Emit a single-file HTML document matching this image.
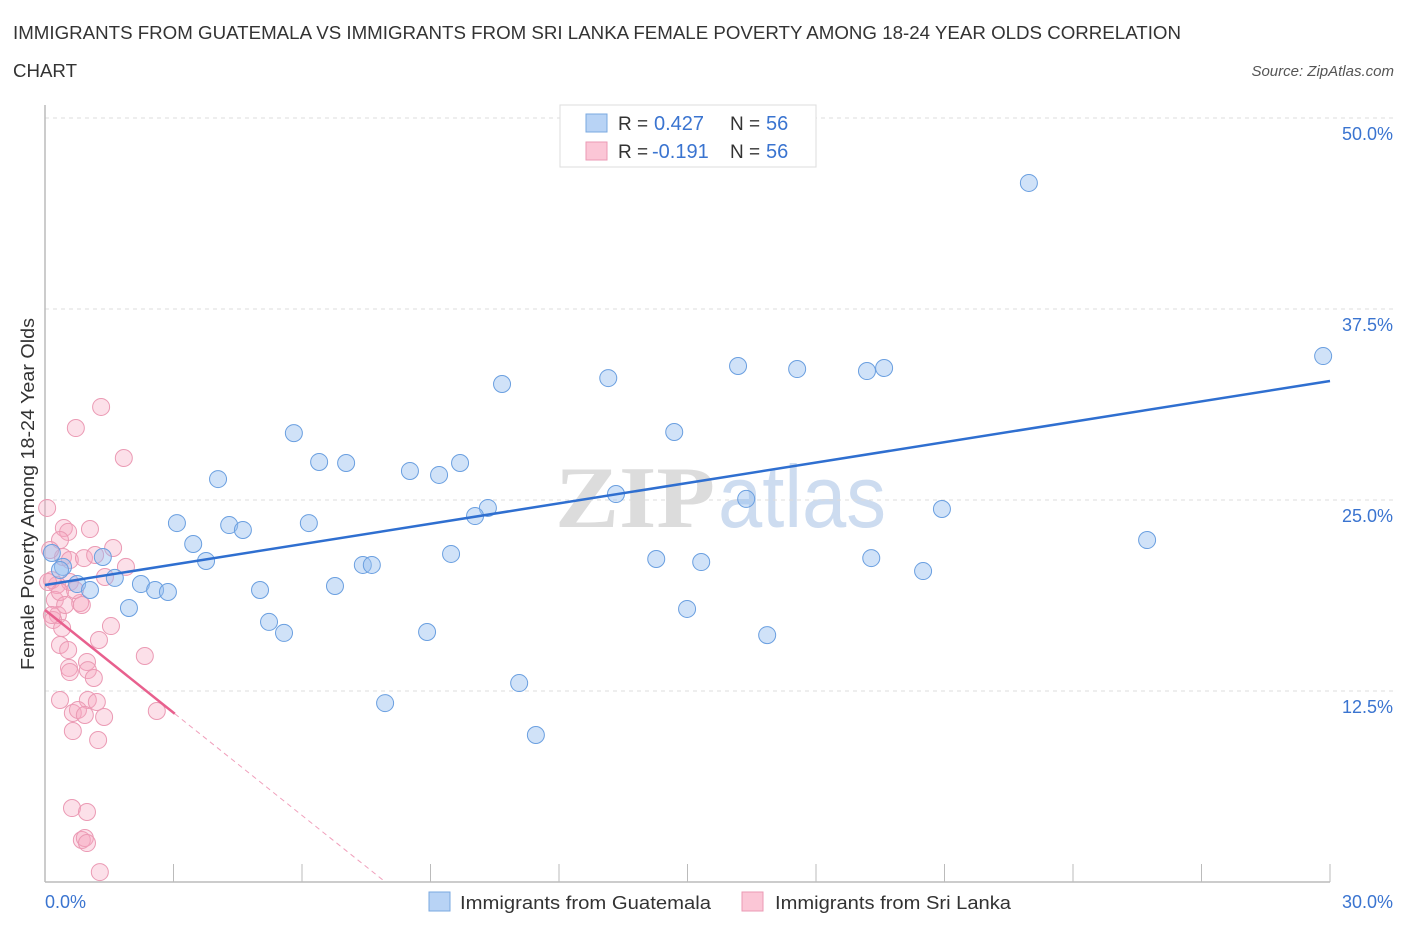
<!DOCTYPE html>
<html><head><meta charset="utf-8"><style>
body{margin:0;background:#fff;font-family:"Liberation Sans",sans-serif}
svg{display:block}
</style></head><body>
<svg id="chart" width="1406" height="930" xmlns="http://www.w3.org/2000/svg">
<text x="13" y="39" font-size="18" fill="#333" textLength="1168" lengthAdjust="spacingAndGlyphs">IMMIGRANTS FROM GUATEMALA VS IMMIGRANTS FROM SRI LANKA FEMALE POVERTY AMONG 18-24 YEAR OLDS CORRELATION</text>
<text x="13" y="77" font-size="18" fill="#333" textLength="64" lengthAdjust="spacingAndGlyphs">CHART</text>
<text x="1394" y="76" font-size="15" fill="#555" font-style="italic" text-anchor="end">Source: ZipAtlas.com</text>
<text transform="translate(34,494) rotate(-90)" font-size="18" fill="#333" text-anchor="middle" textLength="352" lengthAdjust="spacingAndGlyphs">Female Poverty Among 18-24 Year Olds</text>
<g font-size="88"><text x="555" y="527" fill="#dcdcdc" font-family="Liberation Serif" font-weight="bold" textLength="160" lengthAdjust="spacingAndGlyphs">ZIP</text><text x="718" y="527" fill="#cddcf0" textLength="168" lengthAdjust="spacingAndGlyphs">atlas</text></g>
<g id="grid"></g><g id="axes"></g><g id="marks"></g>
<g>
<rect x="560" y="105" width="256" height="62" fill="#fff" stroke="#ddd"/>
<rect x="586" y="114" width="21" height="18" fill="#b8d3f5" stroke="#7aa8e0"/>
<rect x="586" y="142" width="21" height="18" fill="#fbc6d6" stroke="#eb9ab4"/>
<text x="618" y="130" font-size="19" fill="#333">R =</text><text x="654" y="130" font-size="20" fill="#3a74d0">0.427</text>
<text x="730" y="130" font-size="19" fill="#333">N =</text><text x="766" y="130" font-size="20" fill="#3a74d0">56</text>
<text x="618" y="158" font-size="19" fill="#333">R =</text><text x="652" y="158" font-size="20" fill="#3a74d0">-0.191</text>
<text x="730" y="158" font-size="19" fill="#333">N =</text><text x="766" y="158" font-size="20" fill="#3a74d0">56</text>
</g>
<g>
<rect x="429" y="892" width="21" height="19" fill="#b8d3f5" stroke="#7aa8e0"/>
<text x="460" y="909" font-size="18" fill="#333" textLength="251" lengthAdjust="spacingAndGlyphs">Immigrants from Guatemala</text>
<rect x="742" y="892" width="21" height="19" fill="#fbc6d6" stroke="#eb9ab4"/>
<text x="775" y="909" font-size="18" fill="#333" textLength="236" lengthAdjust="spacingAndGlyphs">Immigrants from Sri Lanka</text>
</g>
</svg>
<script>
const yTicks=[12.5,25,37.5,50];
const yTickLabels=["12.5%","25.0%","37.5%","50.0%"];
const xTicks=[0,3,6,9,12,15,18,21,24,27,30];
const guatX=[22.97,29.84,16.18,17.56,19.19,19.59,13.15,10.67,14.69,5.81,6.40,7.03,9.69,8.52,9.20,4.04,13.33,16.37,10.34,10.04,20.94,3.08,4.30,4.62,6.16,3.46,25.73,9.48,14.27,19.29,3.76,7.42,7.63,15.32,20.50,1.35,0.42,1.63,2.24,0.75,1.05,2.57,2.87,6.77,5.02,1.96,14.99,5.23,5.58,8.92,16.86,11.07,7.94,11.46,0.16,0.35];
const guatY=[45.75,34.42,33.77,33.57,33.44,33.64,32.98,32.59,29.45,29.38,27.49,27.42,27.42,26.90,26.64,26.37,25.39,25.07,24.48,23.95,24.41,23.49,23.36,23.04,23.49,22.12,22.38,21.47,21.14,21.20,21.01,20.75,20.75,20.94,20.35,21.27,20.62,19.90,19.50,19.50,19.11,19.11,18.98,19.37,19.11,17.93,17.87,17.02,16.30,16.36,16.16,13.02,11.71,9.62,21.53,20.42];
const sriX=[1.31,0.72,1.84,0.05,0.44,0.54,1.05,0.42,0.58,1.59,0.91,0.35,1.40,1.89,0.58,0.28,0.16,0.23,0.35,0.82,0.86,0.30,0.19,0.40,0.35,1.54,1.26,0.98,1.00,0.56,2.33,0.54,0.58,1.14,1.00,0.65,0.77,1.21,0.93,1.38,1.24,2.61,0.65,0.63,0.98,0.86,0.93,0.98,1.28,0.12,0.07,1.17,0.35,0.47,0.70,0.16];
const sriY=[31.09,29.71,27.75,24.48,23.17,22.91,23.10,21.27,21.07,21.86,21.20,22.38,19.96,20.62,19.63,19.44,19.76,18.46,18.98,18.26,18.13,17.47,17.15,16.62,15.51,16.75,15.84,14.40,13.87,14.01,14.79,15.18,13.74,13.35,11.91,11.06,11.26,11.78,10.93,10.80,9.29,11.19,9.88,4.84,4.58,2.75,2.88,2.55,0.65,21.73,19.63,21.40,11.91,18.13,19.11,17.47];
const guatTrend=[19.44,32.79];
const sriTrend=[17.80,-2.24]; // intercept, slope
const sriSolidEnd=3.03, sriDashEnd=7.94;
const X0=45,X1=1330,Y0=882,Y1=118;
const sx=v=>X0+(X1-X0)*v/30, sy=v=>Y0-(Y0-Y1)*v/50;
const NS="http://www.w3.org/2000/svg";
function mk(t,a,p){const e=document.createElementNS(NS,t);for(const k in a)e.setAttribute(k,a[k]);p.appendChild(e);return e;}
const grid=document.getElementById('grid'),axes=document.getElementById('axes'),marks=document.getElementById('marks');
yTicks.forEach((t,i)=>{
 const l=mk('line',{x1:X0,x2:1394,y1:sy(t),y2:sy(t),stroke:'#ddd','stroke-dasharray':'4,4'},grid);
 
 
 const tx=mk('text',{x:1393,y:sy(t)+22,'font-size':18,fill:'#3a74d0','text-anchor':'end'},axes);
 tx.textContent=yTickLabels[i];
 
 
});
const ax=mk('line',{x1:X0,x2:X1,y1:Y0,y2:Y0,stroke:'#bbb','stroke-width':1.5},axes);


const ay=mk('line',{x1:X0,x2:X0,y1:105,y2:Y0,stroke:'#bbb','stroke-width':1.5},axes);


xTicks.forEach(t=>{
 const l=mk('line',{x1:sx(t),x2:sx(t),y1:864,y2:Y0,stroke:'#bbb'},axes);
 
 
});
const xl0=mk('text',{x:45,y:908,'font-size':18,fill:'#3a74d0'},axes);xl0.textContent='0.0%';


const xl1=mk('text',{x:1393,y:908,'font-size':18,fill:'#3a74d0','text-anchor':'end'},axes);xl1.textContent='30.0%';


sriX.forEach((x,i)=>{
 const c=mk('circle',{cx:sx(x),cy:sy(sriY[i]),r:8.5,fill:'rgba(245,165,192,0.35)',stroke:'#eb9ab4','stroke-width':1},marks);
 
 
});
guatX.forEach((x,i)=>{
 const c=mk('circle',{cx:sx(x),cy:sy(guatY[i]),r:8.5,fill:'rgba(150,190,240,0.45)',stroke:'#6a9fe0','stroke-width':1},marks);
 
 
});
const bt=mk('line',{x1:sx(0),y1:sy(guatTrend[0]),x2:sx(30),y2:sy(guatTrend[1]),stroke:'#2f6fd0','stroke-width':2.5},marks);


const st=mk('line',{x1:sx(0),y1:sy(sriTrend[0]),x2:sx(sriSolidEnd),y2:sy(sriTrend[0]+sriTrend[1]*sriSolidEnd),stroke:'#e8608e','stroke-width':2.5},marks);


const sd=mk('line',{x1:sx(sriSolidEnd),y1:sy(sriTrend[0]+sriTrend[1]*sriSolidEnd),x2:sx(sriDashEnd),y2:sy(sriTrend[0]+sriTrend[1]*sriDashEnd),stroke:'#f0a0bc','stroke-width':1,'stroke-dasharray':'5,4'},marks);


</script>
</body></html>
